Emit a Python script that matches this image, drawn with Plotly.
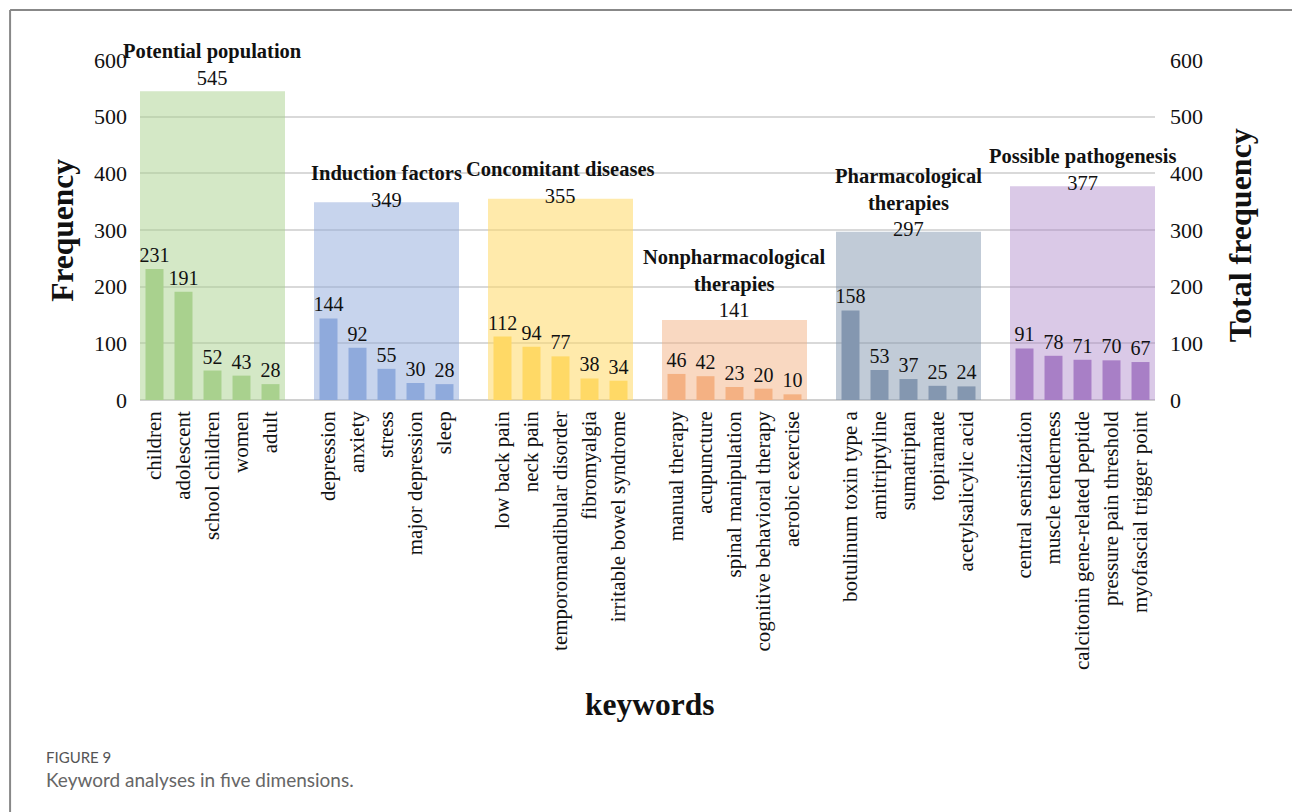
import plotly.graph_objects as go

# ---- data ----
group_titles = ["Potential population", "Induction factors", "Concomitant diseases",
                "Nonpharmacological<br>therapies", "Pharmacological<br>therapies",
                "Possible pathogenesis"]
group_totals = [545, 349, 355, 141, 297, 377]

kw_population = ["children", "adolescent", "school children", "women", "adult"]
val_population = [231, 191, 52, 43, 28]
kw_induction = ["depression", "anxiety", "stress", "major depression", "sleep"]
val_induction = [144, 92, 55, 30, 28]
kw_concomitant = ["low back pain", "neck pain", "temporomandibular disorder",
                  "fibromyalgia", "irritable bowel syndrome"]
val_concomitant = [112, 94, 77, 38, 34]
kw_nonpharm = ["manual therapy", "acupuncture", "spinal manipulation",
               "cognitive behavioral therapy", "aerobic exercise"]
val_nonpharm = [46, 42, 23, 20, 10]
kw_pharm = ["botulinum toxin type a", "amitriptyline", "sumatriptan", "topiramate",
            "acetylsalicylic acid"]
val_pharm = [158, 53, 37, 25, 24]
kw_patho = ["central sensitization", "muscle tenderness", "calcitonin gene-related peptide",
            "pressure pain threshold", "myofascial trigger point"]
val_patho = [91, 78, 71, 70, 67]

keywords = [kw_population, kw_induction, kw_concomitant, kw_nonpharm, kw_pharm, kw_patho]
values = [val_population, val_induction, val_concomitant, val_nonpharm, val_pharm, val_patho]

# ---- styles ----
bar_colors = ["#a9d18e", "#8faadc", "#ffd966", "#f4b183", "#8497b0", "#a87fc6"]
bg_colors = ["rgba(169,209,142,0.5)", "rgba(143,170,220,0.5)", "rgba(255,217,102,0.55)",
             "rgba(244,177,131,0.5)", "rgba(132,151,176,0.5)", "rgba(168,127,198,0.42)"]
label_shift = [0, -11, -10, -3, -10, -10]   # manual label offsets (px) as in the original
SERIF = "Liberation Serif, Times New Roman, serif"

fig = go.Figure()

tickvals, ticktext = [], []
centers = []
for g in range(len(keywords)):
    base = g * 6
    xs = [base + i for i in range(len(keywords[g]))]
    tickvals += xs
    ticktext += keywords[g]
    centers.append(base + 2)

# background (total) bars
fig.add_trace(go.Bar(
    x=centers, y=group_totals, width=5, yaxis="y",
    marker=dict(color=bg_colors, line=dict(width=0)),
    showlegend=False, hoverinfo="skip",
))

# keyword bars
for g in range(len(keywords)):
    base = g * 6
    xs = [base + i for i in range(len(keywords[g]))]
    fig.add_trace(go.Bar(
        x=xs, y=values[g], width=0.62, yaxis="y2",
        marker=dict(color=bar_colors[g], line=dict(width=0)),
        text=values[g], textposition="outside", constraintext="none", cliponaxis=False,
        textfont=dict(family=SERIF, size=20, color="#111"),
        showlegend=False,
    ))

axis_font = dict(family=SERIF, size=22, color="#111")
fig.update_layout(
    width=1292, height=812,
    paper_bgcolor="white", plot_bgcolor="white",
    margin=dict(l=140, r=137, t=60, b=412),
    barmode="overlay",
    xaxis=dict(range=[-0.5, 34.5], tickmode="array", tickvals=tickvals, ticktext=ticktext,
               tickangle=-90, tickfont=dict(family=SERIF, size=21, color="#111"),
               showgrid=False, showline=False, zeroline=False, ticks="",
               ticklabelstandoff=6),
    yaxis=dict(range=[0, 600], dtick=100, tickfont=axis_font, showgrid=True,
               gridcolor="#d9d9d9", gridwidth=2, zeroline=True, zerolinecolor="#d0d0d0",
               zerolinewidth=2, showline=False, ticks="", ticklabelstandoff=12),
    yaxis2=dict(range=[0, 600], dtick=100, tickfont=axis_font, overlaying="y", side="right",
                showgrid=False, zeroline=False, showline=False, ticks="",
                ticklabelstandoff=14),
    font=dict(family=SERIF, color="#111"),
)

annotations = []
for g in range(len(group_titles)):
    annotations.append(dict(
        x=centers[g], y=group_totals[g], xref="x", yref="y",
        text=f"<b>{group_titles[g]}</b><br>{group_totals[g]}",
        xanchor="center", yanchor="bottom", yshift=label_shift[g],
        showarrow=False, align="center",
        font=dict(family=SERIF, size=20.5, color="#111"),
    ))

annotations += [
    dict(text="<b>Frequency</b>", x=-0.077, y=0.5, xref="paper", yref="paper",
         xanchor="center", yanchor="middle",
         textangle=-90, showarrow=False, font=dict(family=SERIF, size=31.5, color="#111")),
    dict(text="<b>Total frequency</b>", x=1.084, y=0.485, xref="paper", yref="paper",
         xanchor="center", yanchor="middle",
         textangle=-90, showarrow=False, font=dict(family=SERIF, size=32, color="#111")),
    dict(text="<b>keywords</b>", x=0.5025, y=-0.897, xref="paper", yref="paper",
         xanchor="center", yanchor="middle",
         showarrow=False, font=dict(family=SERIF, size=31.5, color="#111")),
    dict(text="FIGURE 9", x=-0.0946, y=-1.05, xref="paper", yref="paper",
         xanchor="left", yanchor="middle",
         showarrow=False, font=dict(family="Lato, Open Sans, sans-serif", size=15, color="#555")),
    dict(text="Keyword analyses in five dimensions.", x=-0.0946, y=-1.1176, xref="paper",
         yref="paper", xanchor="left", yanchor="middle", showarrow=False,
         font=dict(family="Lato, Open Sans, sans-serif", size=19, color="#666")),
]
fig.update_layout(annotations=annotations)

# card frame (top and left edges)
fig.add_shape(type="line", xref="paper", yref="paper", x0=-0.128, x1=1.2, y0=1.147, y1=1.147,
              line=dict(color="#888", width=2))
fig.add_shape(type="line", xref="paper", yref="paper", x0=-0.128, x1=-0.128, y0=1.147, y1=-1.25,
              line=dict(color="#888", width=2))

fig.write_html("out.html", config={"displayModeBar": False},
               post_script="document.body.style.margin='0';")
